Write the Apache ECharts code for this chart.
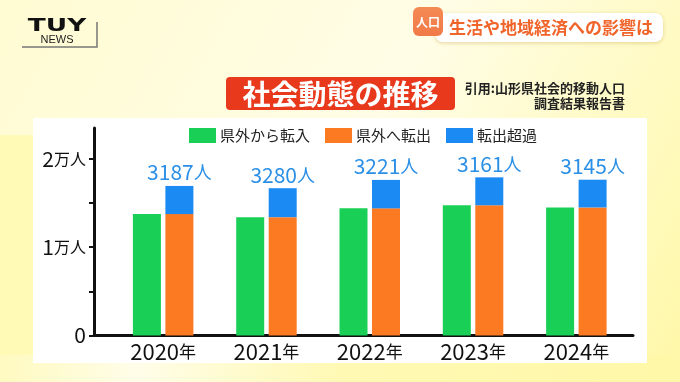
<!DOCTYPE html>
<html><head><meta charset="utf-8">
<script src="https://cdn.jsdelivr.net/npm/echarts@6/dist/echarts.min.js"></script>
<style>html,body{margin:0;padding:0;}#c{width:680px;height:382px;}</style>
</head><body><div id="c"></div>
<script>
const categories = ['2020', '2021', '2022', '2023', '2024'];
const inflow = [13750, 13400, 14400, 14750, 14500];   // 県外から転入
const excess = [3187, 3280, 3221, 3161, 3145];        // 転出超過
const seriesNames = ['県外から転入', '県外へ転出', '転出超過'];
const yTicks = [0, 5000, 10000, 15000, 20000];
const yLabels = [0, 10000, 20000];
const yMax = 23500;

const F = '"Noto Sans CJK JP", "Noto Sans", sans-serif';
const chart = echarts.init(document.getElementById('c'), null, {renderer: 'canvas'});

const option = {
  animation: false,
  backgroundColor: {
    type: 'linear', x: 0, y: 0, x2: 1, y2: 1,
    colorStops: [
      {offset: 0, color: '#fffbd2'},
      {offset: 0.5, color: '#fffde6'},
      {offset: 1, color: '#fff8a8'}
    ]
  },
  graphic: [
    // left yellow strip & bottom band
    {type: 'rect', z: -10, shape: {x: 0, y: 135, width: 40, height: 247}, style: {fill: '#fffab6'}},
    {type: 'rect', z: -10, shape: {x: 0, y: 355, width: 680, height: 27},
      style: {fill: {type: 'linear', x: 0, y: 0, x2: 1, y2: 0, colorStops: [
        {offset: 0, color: '#fffac0'}, {offset: 0.2, color: '#fffde8'}, {offset: 0.5, color: '#fff9b4'}, {offset: 1, color: '#fff8a8'}]}}},
    // white panel
    {type: 'rect', z: -5, shape: {x: 33, y: 118, width: 614, height: 245}, style: {fill: '#ffffff'}},
    // logo
    {type: 'text', x: 57, y: 27, scaleX: 1.55, style: {text: 'TUY', font: '900 17px "DejaVu Sans", sans-serif', fill: '#111', align: 'center', verticalAlign: 'middle'}},
    {type: 'text', x: 57, y: 40, style: {text: 'NEWS', font: '11px "Liberation Sans", sans-serif', fill: '#222', align: 'center', verticalAlign: 'middle'}},
    {type: 'polyline', shape: {points: [[22, 47], [97, 47], [97, 22]]}, style: {stroke: '#777', lineWidth: 1.5, fill: null}},
    // top right banner
    {type: 'rect', shape: {x: 435, y: 13, width: 228, height: 29, r: 8},
      style: {fill: '#ffffff', shadowBlur: 4, shadowColor: 'rgba(200,170,80,0.5)', shadowOffsetY: 1}},
    {type: 'rect', shape: {x: 413, y: 7, width: 30, height: 29, r: 6},
      style: {fill: {type: 'linear', x: 0, y: 0, x2: 0, y2: 1, colorStops: [{offset: 0, color: '#f58a55'}, {offset: 1, color: '#f07a48'}]}}},
    {type: 'text', x: 428, y: 22, style: {text: '人口', font: 'bold 12px ' + F, fill: '#fff', align: 'center', verticalAlign: 'middle'}},
    {type: 'text', x: 449, y: 27.5, style: {text: '生活や地域経済への影響は', font: 'bold 17px ' + F, fill: '#f0642a', align: 'left', verticalAlign: 'middle'}},
    // title
    {type: 'rect', shape: {x: 226, y: 77, width: 229, height: 33, r: 4}, style: {fill: '#e8391d'}},
    {type: 'text', x: 340.5, y: 94, style: {text: '社会動態の推移', font: 'bold 28px ' + F, fill: '#ffffff', align: 'center', verticalAlign: 'middle'}},
    {type: 'text', x: 625, y: 88, style: {text: '引用:山形県社会的移動人口', font: 'bold 13px ' + F, fill: '#222', align: 'right', verticalAlign: 'middle'}},
    {type: 'text', x: 625, y: 103, style: {text: '調査結果報告書', font: 'bold 13px ' + F, fill: '#222', align: 'right', verticalAlign: 'middle'}}
  ],
  legend: {
    left: 184, top: 123, itemWidth: 27, itemHeight: 15, itemGap: 15,
    icon: 'rect', data: seriesNames,
    textStyle: {fontFamily: F, fontSize: 15, color: '#222', padding: [0, 0, 0, -1]}
  },
  grid: [
    {left: 111.5, right: 52, top: 128, bottom: 46.5},
    {left: 94, right: 47, top: 128, bottom: 46.5}
  ],
  xAxis: [
    {type: 'category', gridIndex: 0, data: categories,
      axisLine: {show: false}, axisTick: {show: false},
      axisLabel: {margin: 5, formatter: v => '{n|' + v + '}{u|年}',
        rich: {n: {fontFamily: F, fontSize: 22, color: '#111'}, u: {fontFamily: F, fontSize: 17, color: '#111'}}}},
    {type: 'value', gridIndex: 1, min: 0, max: 1,
      axisLine: {show: true, lineStyle: {color: '#111', width: 3}},
      axisTick: {show: false}, axisLabel: {show: false}, splitLine: {show: false}}
  ],
  yAxis: [
    {type: 'value', gridIndex: 0, min: 0, max: yMax, show: false, splitLine: {show: false}},
    {type: 'value', gridIndex: 1, min: 0, max: yMax,
      axisLine: {show: true, lineStyle: {color: '#111', width: 3}},
      axisTick: {show: true, customValues: yTicks, length: 5, lineStyle: {color: '#111', width: 2}},
      axisLabel: {customValues: yLabels, margin: 8,
        formatter: v => v === 0 ? '{n|0}' : '{n|' + (v / 10000) + '}{u|万人}',
        rich: {n: {fontFamily: F, fontSize: 21, color: '#111'}, u: {fontFamily: F, fontSize: 16, color: '#111'}}},
      splitLine: {show: false}}
  ],
  series: [
    {name: seriesNames[0], type: 'bar', xAxisIndex: 0, yAxisIndex: 0, data: inflow,
      barWidth: 28, barGap: '16%', itemStyle: {color: '#19cf55'}},
    {name: seriesNames[1], type: 'bar', stack: 'out', xAxisIndex: 0, yAxisIndex: 0, data: inflow,
      barWidth: 28, itemStyle: {color: '#fb7a22'}},
    {name: seriesNames[2], type: 'bar', stack: 'out', xAxisIndex: 0, yAxisIndex: 0, data: excess,
      barWidth: 28, itemStyle: {color: '#1b8af2'},
      label: {show: true, position: 'top', distance: 3,
        formatter: p => '{n|' + p.value + '}{u|人}',
        rich: {n: {fontFamily: F, fontSize: 21, color: '#2a8fe6'}, u: {fontFamily: F, fontSize: 18, color: '#2a8fe6'}}}}
  ]
};
chart.setOption(option);
</script>
</body></html>
